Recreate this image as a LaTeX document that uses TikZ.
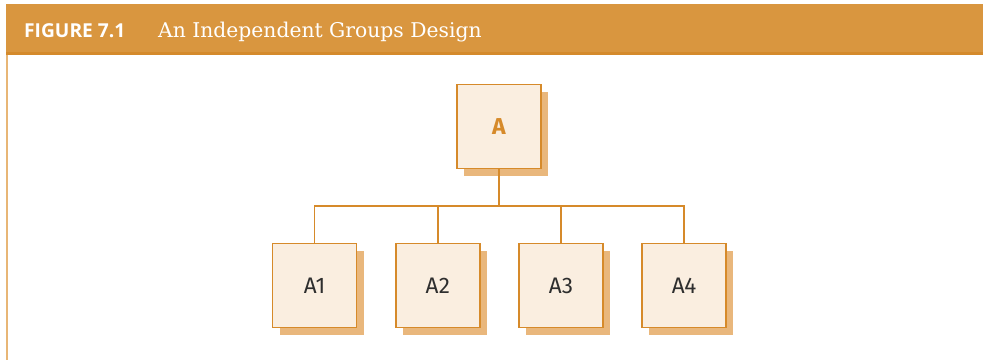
\documentclass[tikz,border=0pt]{standalone}
\usepackage{fontspec}
\setsansfont{Fira Sans}
\newfontfamily\headsans{Open Sans}
\newfontfamily\headserif{DejaVu Serif}
\usetikzlibrary{shadows,calc}
\definecolor{band}{HTML}{D9963F}
\definecolor{bandline}{HTML}{D48A2C}
\definecolor{leftline}{HTML}{E8B676}
\definecolor{boxfill}{HTML}{FAEEE0}
\definecolor{boxline}{HTML}{D68A2A}
\definecolor{shadowc}{HTML}{E9B77C}
\definecolor{labelc}{HTML}{2E2E2E}
\tikzset{
  unitbox/.style={draw=boxline, line width=1.4pt, fill=boxfill, minimum width=84pt, minimum height=84pt, inner sep=0pt,
    drop shadow={shadow xshift=7pt, shadow yshift=-7pt, fill=shadowc, opacity=1},
    font=\sffamily\fontsize{22.5}{26}\selectfont, text=labelc},
  link/.style={draw=boxline, line width=1.4pt},
}
\begin{document}
\begin{tikzpicture}[x=1pt,y=-1pt]
\useasboundingbox (0,0) rectangle (983,360);
% header
\fill[band] (6,4) rectangle (983,52);
\fill[bandline] (6,52) rectangle (983,54.5);
\fill[leftline] (6,54.5) rectangle (7.7,360);
\node[anchor=base west, inner sep=0pt, text=white, font=\headsans\bfseries\fontsize{19.2}{22}\selectfont] (fig) at (24,37) {FIGURE 7.1};
\node[anchor=base west, inner sep=0pt, text=white, font=\headserif\fontsize{20.3}{24}\selectfont] (title) at (158,37) {An Independent Groups Design};
% boxes
\node[unitbox, text=boxline, font=\sffamily\bfseries\fontsize{23}{26}\selectfont] (A) at (499,126.5) {A};
\node[unitbox] (A1) at (314.7,285.5) {A1};
\node[unitbox] (A2) at (437.8,285.5) {A2};
\node[unitbox] (A3) at (561,285.5) {A3};
\node[unitbox] (A4) at (684,285.5) {A4};
\coordinate (bus) at (499,206);
\draw[link] (A.south) -- (bus);
\draw[link] (A1.north) |- (bus);
\draw[link] (A2.north) |- (bus);
\draw[link] (A3.north) |- (bus);
\draw[link] (A4.north) |- (bus);
\end{tikzpicture}
\end{document}
